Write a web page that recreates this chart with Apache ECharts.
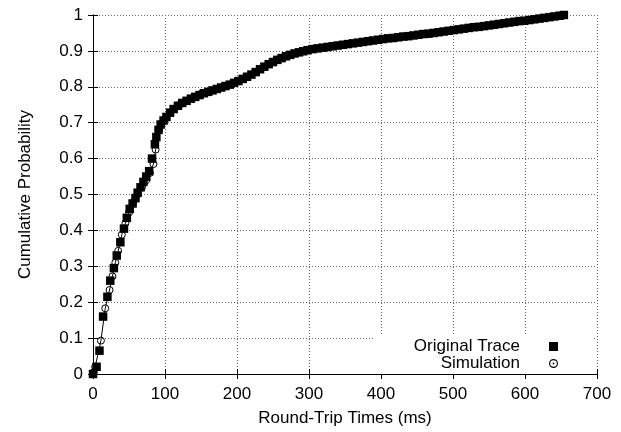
<!DOCTYPE html>
<html>
<head>
<meta charset="utf-8">
<script src="https://cdn.jsdelivr.net/npm/echarts@6/dist/echarts.min.js"></script>
<style>
  html, body { margin: 0; padding: 0; background: #fff; }
  #main { width: 621px; height: 432px; }
</style>
</head>
<body>
<div id="main"></div>
<script>
// Original trace (squares)
var traceX = [0, 5, 9, 14, 20, 24, 29, 33, 38, 43, 47, 51, 55, 59, 62, 66, 70, 74, 78, 82, 86, 88, 91, 94, 98,
  102, 107, 112, 118, 124, 130, 136, 142, 148, 154, 160, 166, 172, 178, 184, 190, 196, 202, 208, 214, 220,
  226, 232, 238, 244, 250, 256, 262, 268, 274, 280, 286, 292, 298, 305, 312, 319, 326, 333, 340, 347, 354,
  361, 368, 375, 382, 389, 396, 403, 410, 417, 424, 431, 438, 445, 452, 459, 466, 473, 480, 487, 494, 501,
  508, 515, 522, 529, 536, 543, 550, 557, 564, 571, 578, 585, 592, 599, 606, 613, 620, 627, 634, 641, 648, 654];
var traceY = [0, 0.02, 0.065, 0.16, 0.215, 0.26, 0.295, 0.33, 0.367, 0.405, 0.435, 0.46, 0.475, 0.49, 0.505,
  0.52, 0.535, 0.55, 0.565, 0.6, 0.64, 0.66, 0.68, 0.695, 0.706,
  0.716, 0.728, 0.738, 0.747, 0.755, 0.761, 0.767, 0.772, 0.777, 0.782, 0.786, 0.79, 0.794, 0.798, 0.802,
  0.806, 0.811, 0.816, 0.822, 0.828, 0.834, 0.841, 0.849, 0.856, 0.863, 0.869, 0.875, 0.88, 0.885, 0.889,
  0.893, 0.896, 0.899, 0.902, 0.905, 0.907, 0.909, 0.911, 0.913, 0.915, 0.917, 0.919, 0.921, 0.923, 0.925,
  0.927, 0.929, 0.931, 0.933, 0.935, 0.936, 0.938, 0.94, 0.941, 0.943, 0.945, 0.947, 0.948, 0.95, 0.952,
  0.954, 0.956, 0.958, 0.96, 0.962, 0.964, 0.966, 0.967, 0.969, 0.971, 0.973, 0.975, 0.977, 0.979, 0.981,
  0.983, 0.984, 0.986, 0.988, 0.99, 0.992, 0.994, 0.996, 0.998, 1.0];

// Simulation (open circles + thin line)
var simX = [1, 3, 11, 17, 23, 27, 31, 35, 40, 45, 50, 56, 62, 68, 74, 79, 84, 87, 92, 100, 120, 150, 200, 250, 300, 400, 500, 600, 650];
var simY = [0.005, 0.02, 0.093, 0.183, 0.234, 0.272, 0.31, 0.343, 0.388, 0.42, 0.45, 0.478, 0.5, 0.52, 0.54,
  0.56, 0.585, 0.625, 0.68, 0.71, 0.75, 0.78, 0.815, 0.869, 0.904, 0.932, 0.958, 0.983, 0.997];

var seriesNames = ['Original Trace', 'Simulation'];

function pairs(xs, ys) {
  return xs.map(function (x, i) { return [x, ys[i]]; });
}

var font = "'Liberation Sans', Arial, sans-serif";
var myChart = echarts.init(document.getElementById('main'));

var frameLine = { show: true, lineStyle: { color: '#000', width: 1 } };
var frameTick = { show: true, inside: true, length: 5, lineStyle: { color: '#000' } };
var gridLine = { show: true, lineStyle: { color: '#666', type: [1, 2], width: 1 } };

option = {
  animation: false,
  backgroundColor: '#fff',
  textStyle: { fontFamily: font },
  grid: { left: 93, right: 24, top: 15, bottom: 57, containLabel: false },
  legend: {
    data: [
      { name: seriesNames[0], icon: 'rect' },
      { name: seriesNames[1],
        icon: 'path://M0,5a5,5 0 1,0 10,0a5,5 0 1,0 -10,0zM1.3,5a3.7,3.7 0 1,1 7.4,0a3.7,3.7 0 1,1 -7.4,0zM4,5a1,1 0 1,0 2,0a1,1 0 1,0 -2,0z',
        itemStyle: { color: '#000', borderWidth: 0 } }
    ],
    orient: 'vertical',
    align: 'right',
    right: 29,
    top: 336,
    padding: [2, 34, 2, 30],
    backgroundColor: '#fff',
    itemWidth: 9,
    itemHeight: 9,
    itemGap: 0,
    z: 10,
    textStyle: {
      fontSize: 17, color: '#000', fontFamily: font, lineHeight: 17,
      width: 116, align: 'right', padding: [0, 24, 0, 0]
    }
  },
  xAxis: [{
    type: 'value', min: 0, max: 700, interval: 100,
    name: 'Round-Trip Times (ms)', nameLocation: 'middle', nameGap: 36,
    nameTextStyle: { fontSize: 17, color: '#000', fontFamily: font },
    axisLine: frameLine, axisTick: frameTick,
    axisLabel: { fontSize: 17, color: '#000', margin: 12, fontFamily: font },
    splitLine: gridLine
  }, {
    type: 'value', min: 0, max: 700, interval: 100, position: 'top',
    axisLine: frameLine, axisTick: frameTick,
    axisLabel: { show: false }, splitLine: { show: false }
  }],
  yAxis: [{
    type: 'value', min: 0, max: 1, interval: 0.1,
    name: 'Cumulative Probability', nameLocation: 'middle', nameGap: 59,
    nameTextStyle: { fontSize: 17, color: '#000', fontFamily: font },
    axisLine: frameLine, axisTick: frameTick,
    axisLabel: { fontSize: 17, color: '#000', margin: 10, fontFamily: font },
    splitLine: gridLine
  }, {
    type: 'value', min: 0, max: 1, interval: 0.1, position: 'right',
    axisLine: frameLine, axisTick: frameTick,
    axisLabel: { show: false }, splitLine: { show: false }
  }],
  series: [{
    name: seriesNames[0],
    type: 'scatter',
    symbol: 'rect',
    symbolSize: 8.5,
    itemStyle: { color: '#000', opacity: 1 },
    data: pairs(traceX, traceY),
    z: 3
  }, {
    name: seriesNames[1],
    type: 'line',
    symbol: 'circle',
    symbolSize: 7,
    showAllSymbol: true,
    lineStyle: { color: '#000', width: 1 },
    itemStyle: { color: 'transparent', borderColor: '#000', borderWidth: 1 },
    data: pairs(simX, simY),
    z: 4
  }]
};

myChart.setOption(option);
</script>
</body>
</html>
